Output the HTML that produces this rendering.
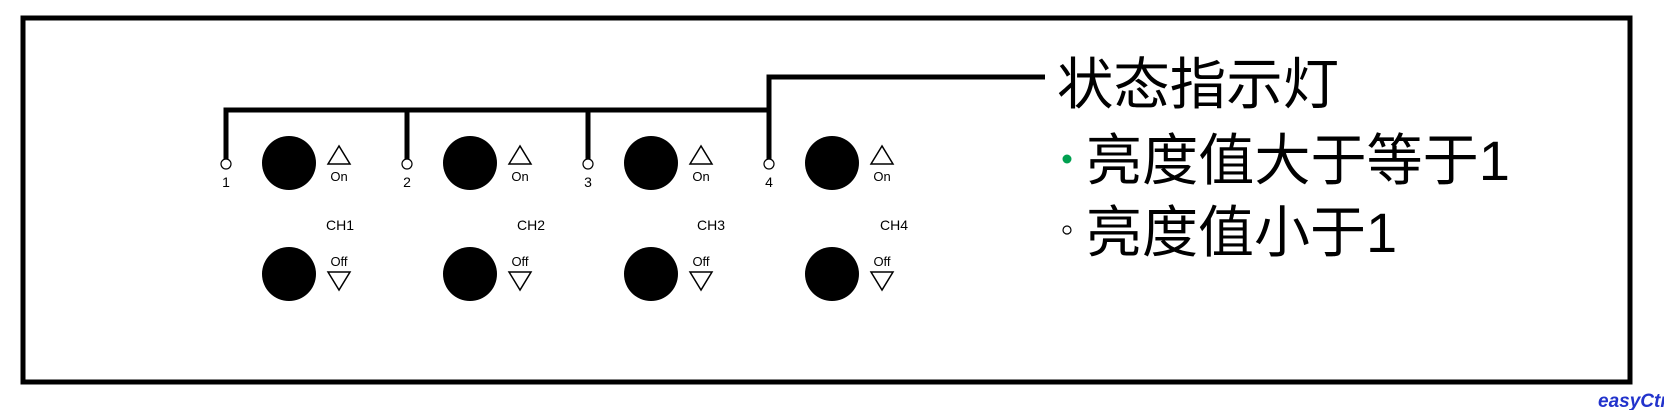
<!DOCTYPE html>
<html><head><meta charset="utf-8"><style>
body{margin:0;background:#fff;width:1664px;height:410px;overflow:hidden}
</style></head><body>
<svg width="1664" height="410" viewBox="0 0 1664 410" xmlns="http://www.w3.org/2000/svg" font-family="Liberation Sans, Arial, sans-serif">
<rect x="23" y="18" width="1607" height="364" fill="none" stroke="#000" stroke-width="5"/>
<polyline points="226,162 226,110 769,110" fill="none" stroke="#000" stroke-width="5"/>
<polyline points="769,162 769,77 1045,77" fill="none" stroke="#000" stroke-width="5"/>
<line x1="407" y1="110" x2="407" y2="162" stroke="#000" stroke-width="5"/>
<line x1="588" y1="110" x2="588" y2="162" stroke="#000" stroke-width="5"/>
<g>
<g transform="translate(0,0)">
<circle cx="226" cy="164" r="5" fill="#fff" stroke="#000" stroke-width="1.2"/>
<text x="226" y="187" font-size="14" text-anchor="middle">1</text>
<circle cx="289" cy="163" r="27"/>
<polygon points="339,146 328,164 350,164" fill="none" stroke="#000" stroke-width="1.5"/>
<text x="339" y="181" font-size="13" text-anchor="middle">On</text>
<text x="340" y="230" font-size="14" text-anchor="middle">CH1</text>
<circle cx="289" cy="274" r="27"/>
<text x="339" y="266" font-size="13" text-anchor="middle">Off</text>
<polygon points="339,290 328,272 350,272" fill="none" stroke="#000" stroke-width="1.5"/>
</g>
<g transform="translate(181,0)">
<circle cx="226" cy="164" r="5" fill="#fff" stroke="#000" stroke-width="1.2"/>
<text x="226" y="187" font-size="14" text-anchor="middle">2</text>
<circle cx="289" cy="163" r="27"/>
<polygon points="339,146 328,164 350,164" fill="none" stroke="#000" stroke-width="1.5"/>
<text x="339" y="181" font-size="13" text-anchor="middle">On</text>
<text x="350" y="230" font-size="14" text-anchor="middle">CH2</text>
<circle cx="289" cy="274" r="27"/>
<text x="339" y="266" font-size="13" text-anchor="middle">Off</text>
<polygon points="339,290 328,272 350,272" fill="none" stroke="#000" stroke-width="1.5"/>
</g>
<g transform="translate(362,0)">
<circle cx="226" cy="164" r="5" fill="#fff" stroke="#000" stroke-width="1.2"/>
<text x="226" y="187" font-size="14" text-anchor="middle">3</text>
<circle cx="289" cy="163" r="27"/>
<polygon points="339,146 328,164 350,164" fill="none" stroke="#000" stroke-width="1.5"/>
<text x="339" y="181" font-size="13" text-anchor="middle">On</text>
<text x="349" y="230" font-size="14" text-anchor="middle">CH3</text>
<circle cx="289" cy="274" r="27"/>
<text x="339" y="266" font-size="13" text-anchor="middle">Off</text>
<polygon points="339,290 328,272 350,272" fill="none" stroke="#000" stroke-width="1.5"/>
</g>
<g transform="translate(543,0)">
<circle cx="226" cy="164" r="5" fill="#fff" stroke="#000" stroke-width="1.2"/>
<text x="226" y="187" font-size="14" text-anchor="middle">4</text>
<circle cx="289" cy="163" r="27"/>
<polygon points="339,146 328,164 350,164" fill="none" stroke="#000" stroke-width="1.5"/>
<text x="339" y="181" font-size="13" text-anchor="middle">On</text>
<text x="351" y="230" font-size="14" text-anchor="middle">CH4</text>
<circle cx="289" cy="274" r="27"/>
<text x="339" y="266" font-size="13" text-anchor="middle">Off</text>
<polygon points="339,290 328,272 350,272" fill="none" stroke="#000" stroke-width="1.5"/>
</g>
</g>
<g font-family="Liberation Sans, Noto Sans CJK SC, sans-serif" font-size="56">
<text x="1057" y="104" textLength="282" lengthAdjust="spacingAndGlyphs">状态指示灯</text>
<circle cx="1067" cy="159" r="4.5" fill="#00a050"/>
<text x="1086" y="180" textLength="424" lengthAdjust="spacingAndGlyphs">亮度值大于等于1</text>
<circle cx="1067" cy="230" r="4" fill="#fff" stroke="#000" stroke-width="1.2"/>
<text x="1086" y="252">亮度值小于1</text>
</g>
<text x="1598" y="407" font-size="19" font-weight="bold" fill="#2233cc" font-style="italic">easyCtrl</text>
</svg>
</body></html>
